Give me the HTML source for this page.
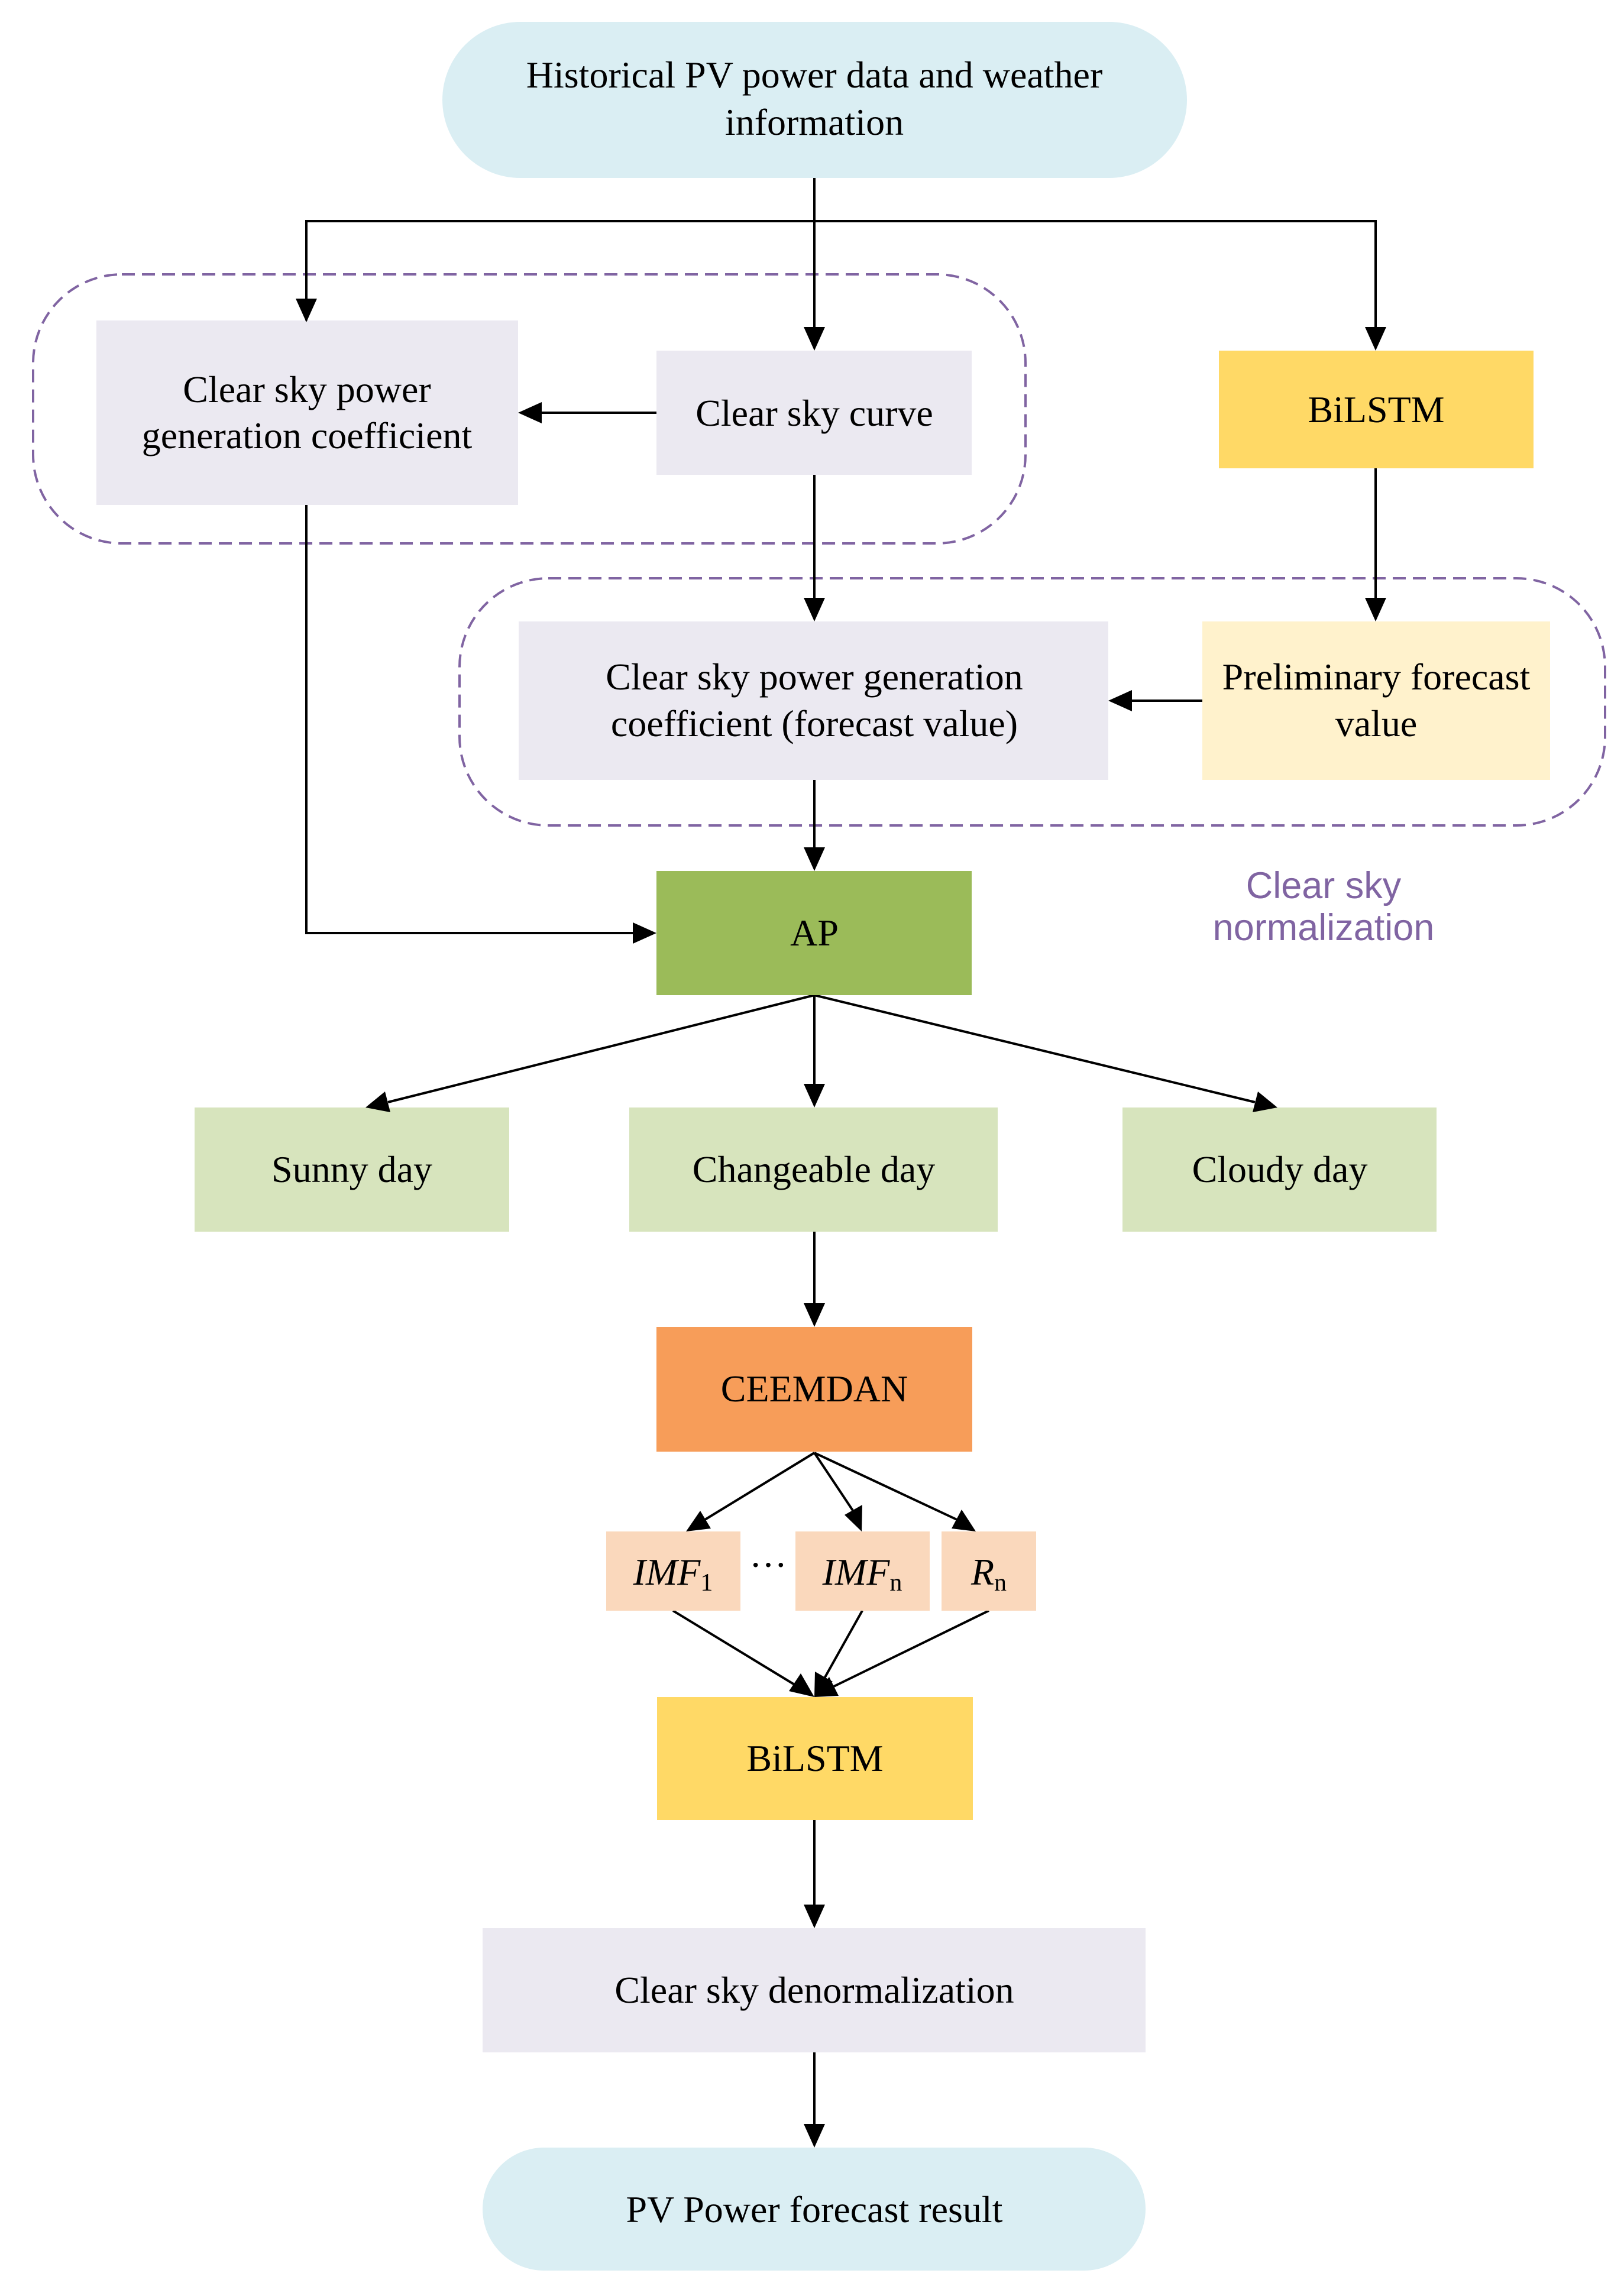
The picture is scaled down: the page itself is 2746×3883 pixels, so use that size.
<!DOCTYPE html>
<html><head><meta charset="utf-8"><style>
html,body{margin:0;padding:0;background:#fff}
svg{display:block}
text{font-family:"Liberation Serif",serif;font-size:64px;fill:#000;text-anchor:middle}
.s{font-family:"Liberation Sans",sans-serif;fill:#8064a2;font-size:63px}
</style></head><body>
<svg width="2746" height="3883" viewBox="0 0 2746 3883" xmlns="http://www.w3.org/2000/svg">
<rect x="56" y="464" width="1678" height="455" rx="150" fill="none" stroke="#8064a2" stroke-width="4" stroke-dasharray="22 12"/>
<rect x="777" y="978" width="1937" height="418" rx="150" fill="none" stroke="#8064a2" stroke-width="4" stroke-dasharray="22 12"/>

<g stroke="#000" stroke-width="4" fill="none">
<path d="M1377 301V555"/>
<path d="M518 545V374H2326V555"/>
<path d="M1110 698H915"/>
<path d="M1377 803V1012"/>
<path d="M2326 792V1012"/>
<path d="M2033 1185H1913"/>
<path d="M1377 1319V1434"/>
<path d="M518 854V1578H1072"/>
<path d="M1377 1683L656 1864"/>
<path d="M1377 1683V1834"/>
<path d="M1377 1683L2122 1864"/>
<path d="M1377 2083V2205"/>
<path d="M1377 2457L1192 2570"/>
<path d="M1377 2457L1443 2556"/>
<path d="M1377 2457L1618 2570"/>
<path d="M1138 2724L1345 2850"/>
<path d="M1458 2724L1393 2840"/>
<path d="M1672 2724L1410 2852"/>
<path d="M1377 3078V3222"/>
<path d="M1377 3471V3593"/>
</g>

<rect x="748" y="37" width="1259" height="264" rx="132" fill="#daeef3"/>
<text x="1377" y="148">Historical PV power data and weather</text>
<text x="1377" y="228">information</text>

<rect x="163" y="542" width="713" height="312" fill="#ebe9f1"/>
<text x="519" y="680">Clear sky power</text>
<text x="519" y="758">generation coefficient</text>

<rect x="1110" y="593" width="533" height="210" fill="#ebe9f1"/>
<text x="1377" y="720">Clear sky curve</text>

<rect x="2061" y="593" width="532" height="199" fill="#ffd966"/>
<text x="2327" y="714">BiLSTM</text>

<rect x="877" y="1051" width="997" height="268" fill="#ebe9f1"/>
<text x="1377" y="1166">Clear sky power generation</text>
<text x="1377" y="1245">coefficient (forecast value)</text>

<rect x="2033" y="1051" width="588" height="268" fill="#fff2cc"/>
<text x="2327" y="1166">Preliminary forecast</text>
<text x="2327" y="1245">value</text>

<text class="s" x="2238" y="1519">Clear sky</text>
<text class="s" x="2238" y="1590">normalization</text>

<rect x="1110" y="1473" width="533" height="210" fill="#9bbb59"/>
<text x="1377" y="1599">AP</text>

<rect x="329" y="1873" width="532" height="210" fill="#d7e4bd"/>
<text x="595" y="1999">Sunny day</text>
<rect x="1064" y="1873" width="623" height="210" fill="#d7e4bd"/>
<text x="1376" y="1999">Changeable day</text>
<rect x="1898" y="1873" width="531" height="210" fill="#d7e4bd"/>
<text x="2164" y="1999">Cloudy day</text>

<rect x="1110" y="2244" width="534" height="211" fill="#f79d59"/>
<text x="1377" y="2370">CEEMDAN</text>

<rect x="1025" y="2590" width="227" height="134" fill="#fad8bc"/>
<text x="1138" y="2680" font-style="italic">IMF<tspan font-style="normal" font-size="42" dy="10">1</tspan></text>
<text x="1299" y="2668">···</text>
<rect x="1345" y="2590" width="227" height="134" fill="#fad8bc"/>
<text x="1458" y="2680" font-style="italic">IMF<tspan font-style="normal" font-size="42" dy="10">n</tspan></text>
<rect x="1592" y="2590" width="160" height="134" fill="#fad8bc"/>
<text x="1672" y="2680" font-style="italic">R<tspan font-style="normal" font-size="42" dy="10">n</tspan></text>

<rect x="1111" y="2870" width="534" height="208" fill="#ffd966"/>
<text x="1378" y="2995">BiLSTM</text>

<rect x="816" y="3261" width="1121" height="210" fill="#ebe9f1"/>
<text x="1377" y="3387">Clear sky denormalization</text>

<rect x="816" y="3632" width="1121" height="208" rx="104" fill="#daeef3"/>
<text x="1377" y="3758">PV Power forecast result</text>

<g fill="#000">
<polygon points="518,545 500,505 536,505"/>
<polygon points="1377,593 1359,553 1395,553"/>
<polygon points="2326,593 2308,553 2344,553"/>
<polygon points="876,698 916,680 916,716"/>
<polygon points="1377,1051 1359,1011 1395,1011"/>
<polygon points="2326,1051 2308,1011 2344,1011"/>
<polygon points="1874,1185 1914,1167 1914,1203"/>
<polygon points="1377,1473 1359,1433 1395,1433"/>
<polygon points="1110,1578 1070,1560 1070,1596"/>
<polygon points="618,1873 651,1846 660,1881"/>
<polygon points="1377,1873 1359,1833 1395,1833"/>
<polygon points="2160,1873 2118,1881 2127,1846"/>
<polygon points="1377,2244 1359,2204 1395,2204"/>
<polygon points="1160,2590 1184,2555 1202,2585"/>
<polygon points="1457,2590 1428,2562 1458,2545"/>
<polygon points="1650,2590 1609,2585 1626,2553"/>
<polygon points="1377,2870 1334,2860 1354,2830"/>
<polygon points="1377,2870 1378,2827 1408,2844"/>
<polygon points="1377,2870 1402,2836 1418,2868"/>
<polygon points="1377,3261 1359,3221 1395,3221"/>
<polygon points="1377,3632 1359,3592 1395,3592"/>
</g>
</svg>
</body></html>
